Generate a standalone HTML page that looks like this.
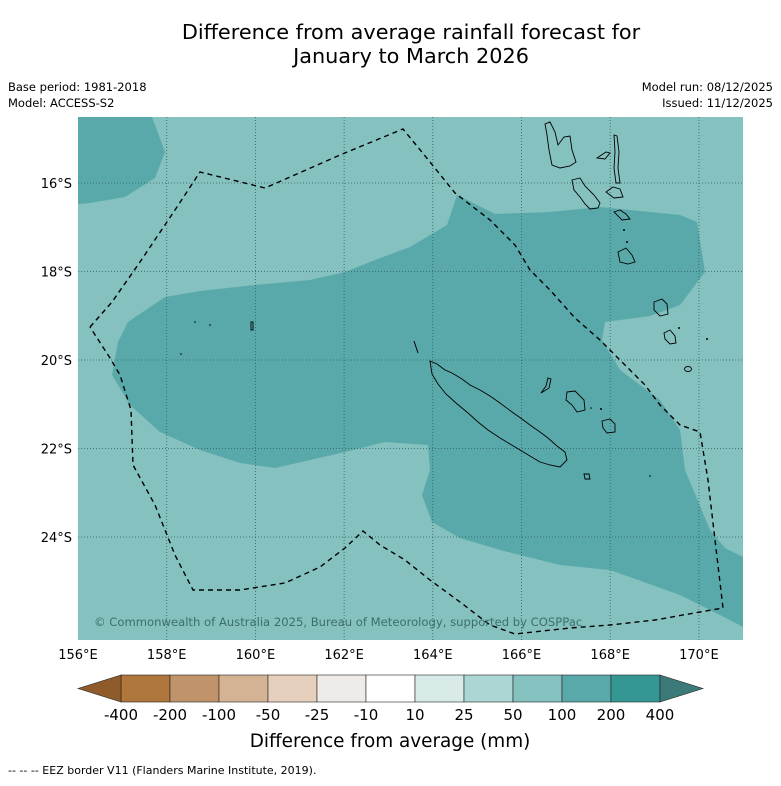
<!DOCTYPE html>
<html><head><meta charset="utf-8">
<style>
body{margin:0;background:#fff;font-family:"Liberation Sans","DejaVu Sans",sans-serif;}
svg text{font-family:"DejaVu Sans","Liberation Sans",sans-serif;}
</style></head>
<body>
<svg width="781" height="781" viewBox="0 0 781 781" xmlns="http://www.w3.org/2000/svg">
<text x="411" y="39" text-anchor="middle" font-size="20.8">Difference from average rainfall forecast for</text>
<text x="411" y="63" text-anchor="middle" font-size="20.8">January to March 2026</text>
<text x="8" y="91" font-size="11.5">Base period: 1981-2018</text>
<text x="8" y="107" font-size="11.5">Model: ACCESS-S2</text>
<text x="773" y="91" font-size="11.5" text-anchor="end">Model run: 08/12/2025</text>
<text x="773" y="107" font-size="11.5" text-anchor="end">Issued: 11/12/2025</text>

<g>
<rect x="78" y="117" width="665" height="523" fill="#84c1bf"/>
<clipPath id="mc"><rect x="78" y="117" width="665" height="523"/></clipPath>
<g clip-path="url(#mc)">
<polygon fill="#5aa9aa" points="128,322 165,297 200,291 255,285 310,280 345,272 375,260 410,247 447,225 457,195 495,214 550,212 600,207 680,215 697,222 705,272 680,305 650,316 605,322 602,340 620,370 660,400 680,430 685,470 710,530 725,548 743,557 743,627 730,620 680,595 610,570 560,565 500,550 460,538 432,522 422,495 430,470 428,445 385,442 345,452 275,468 240,463 200,450 160,432 130,405 112,375 118,342"/>
<polygon fill="#5aa9aa" points="78,117 152,117 165,152 155,178 125,197 90,203 78,204"/>
<g id="grid" stroke="#2d5e5e" stroke-width="0.8" stroke-dasharray="1,2"></g>
<polyline fill="none" stroke="#000" stroke-width="1.4" stroke-dasharray="5,4" points="90,327 112,302 140,262 175,210 200,172 265,188 340,155 403,129 430,162 455,193 490,220 515,245 530,270 550,290 575,318 600,340 620,360 645,385 660,405 680,425 700,432 708,480 715,540 723,608 700,612 655,620 610,625 570,628 515,634 490,625 460,602 430,580 405,560 380,545 363,531 345,548 320,567 285,583 240,590 193,590 175,555 155,505 133,465 131,410 120,375 110,358 90,327"/>
<g fill="none" stroke="#000" stroke-width="0.9">
<polygon points="430,361 437,364 445,370 452,373 462,379 470,385 480,390 490,396 500,403 512,412 522,419 530,425 540,432 548,438 557,446 565,452 567,460 560,467 550,465 540,462 530,456 520,450 510,444 500,438 488,430 478,422 468,413 456,403 446,394 438,384 432,374"/>
<polygon points="584,474 589,474 590,479 585,479"/>
<polygon points="548,378 551,379 549,388 541,393 546,386"/>
<polygon points="567,392 575,391 580,396 584,400 585,410 577,412 572,405 566,400"/>
<polygon points="602,421 610,419 615,424 615,432 607,433 603,428"/>
<polygon points="545,124 550,122 555,132 558,145 564,137 570,136 572,150 576,162 570,166 560,168 552,165 549,150 547,135"/>
<polygon points="572,180 580,178 585,186 594,195 600,203 598,208 590,209 585,204 580,197 574,190"/>
<polygon points="597,158 606,152 610,153 605,159"/>
<polygon points="614,135 617,136 619,152 618,168 620,183 616,183 614,168 615,152"/>
<polygon points="606,192 613,187 620,189 623,197 614,198"/>
<polygon points="614,212 620,210 626,214 630,219 622,220"/>
<polygon points="618,252 626,248 632,255 635,262 628,264 620,262"/>
<polygon points="654,302 662,299 667,304 668,314 660,316 654,310"/>
<polygon points="664,333 670,330 675,336 676,343 670,344 665,339"/>
<ellipse cx="688" cy="369" rx="3.5" ry="2.5"/>
<rect x="251" y="322" width="2" height="8"/>
</g>
<g fill="#000">
<circle cx="195" cy="322" r="0.8"/><circle cx="210" cy="325" r="0.8"/><circle cx="181" cy="354" r="0.8"/><circle cx="707" cy="339" r="1"/><circle cx="650" cy="476" r="0.8"/><circle cx="679" cy="328" r="1"/><circle cx="591" cy="408" r="0.8"/><circle cx="601" cy="409" r="1"/><circle cx="624" cy="230" r="1"/><circle cx="627" cy="242" r="1"/>
</g>
<polyline fill="none" stroke="#000" stroke-width="1" points="414,341 416,347 418,353"/>
<text x="94" y="626" font-size="11.6" fill="#3d6f6c">© Commonwealth of Australia 2025, Bureau of Meteorology, supported by COSPPac</text>
</g>
</g>
<g id="axes" font-size="13"></g>
<g id="cbar"></g>
<text x="390" y="747" text-anchor="middle" font-size="18.4">Difference from average (mm)</text>
<text x="8" y="774" font-size="11">--  --  -- EEZ border V11 (Flanders Marine Institute, 2019).</text>
</svg>
<script>
const lonTicks = [156,158,160,162,164,166,168,170];
const latTicks = [16,18,20,22,24];
const levels = ["-400","-200","-100","-50","-25","-10","10","25","50","100","200","400"];
const binColors = ["#b0773d","#c1936a","#d4b394","#e6d0bd","#efebe8","#ffffff","#d8ebe9","#acd6d4","#84c1bf","#5aa9aa","#349794"];
const extendColors = ["#8f5b2a","#3b7a78"];
const NS="http://www.w3.org/2000/svg";
function xLon(l){return 78+(l-156)*44.35;}
function yLat(l){return 183+(l-16)*44.25;}
function mk(t,a,p){const e=document.createElementNS(NS,t);for(const k in a)e.setAttribute(k,a[k]);p.appendChild(e);return e;}
const grid=document.getElementById('grid'),axes=document.getElementById('axes'),cbar=document.getElementById('cbar');
lonTicks.forEach(l=>{const x=xLon(l);
 if(l>156){const g=mk('line',{x1:x,x2:x,y1:117,y2:640},grid);
 
 }
 const t=mk('text',{x:x,y:659,'text-anchor':'middle'},axes);t.textContent=l+'°E';
 
 });
latTicks.forEach(l=>{const y=yLat(l);
 const g=mk('line',{x1:78,x2:743,y1:y,y2:y},grid);
 
 
 const t=mk('text',{x:72,y:y+5,'text-anchor':'end'},axes);t.textContent=l+'°S';
 
 });
const x0=121,w=49,y0=675,h=27;
binColors.forEach((c,i)=>{const r=mk('rect',{x:x0+i*w,y:y0,width:w,height:h,fill:c,stroke:'#222','stroke-width':0.6},cbar);
 
 });
const xe=x0+binColors.length*w;
const lt=mk('polygon',{points:`${x0},${y0} 78,${y0+h/2} ${x0},${y0+h}`,fill:extendColors[0],stroke:'#222','stroke-width':0.6},cbar);


const rt=mk('polygon',{points:`${xe},${y0} ${xe+43},${y0+h/2} ${xe},${y0+h}`,fill:extendColors[1],stroke:'#222','stroke-width':0.6},cbar);


levels.forEach((s,i)=>{const t=mk('text',{x:x0+i*w,y:720,'text-anchor':'middle','font-size':15},cbar);t.textContent=s;
 
 });
</script>
</body></html>
